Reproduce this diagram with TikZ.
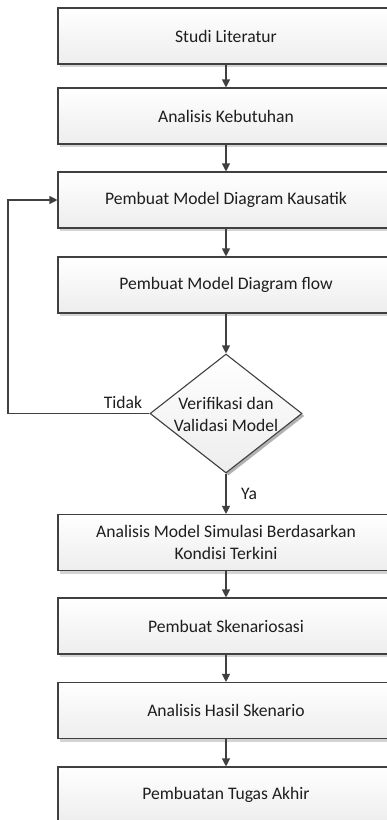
\documentclass[tikz,border=0pt]{standalone}
\usepackage{fontspec}
\setmainfont{Carlito}
\usetikzlibrary{shapes.geometric,arrows.meta,shadows}
\definecolor{linegray}{HTML}{404040}
\definecolor{textgray}{HTML}{1E1E1E}
\definecolor{shadowgray}{HTML}{D4D4D4}
\begin{document}
\begin{tikzpicture}[x=1pt,y=-1pt,
  font=\fontsize{17.6}{22}\selectfont, text=textgray,
  stepbox/.style={rectangle, draw=linegray, line width=1.1pt,
    top color=white, bottom color=black!7,
    minimum width=336pt, minimum height=56pt, inner sep=0pt, align=center,
    drop shadow={shadow xshift=1.5pt, shadow yshift=-3pt, fill=shadowgray, opacity=1}},
  decision/.style={diamond, draw=linegray, line width=1.1pt,
    top color=white, bottom color=black!7,
    minimum width=152pt, minimum height=119pt, inner sep=0pt,
    drop shadow={shadow xshift=2.5pt, shadow yshift=-2.5pt, fill=black!30, opacity=1}},
  flow/.style={draw=linegray, line width=1.1pt, -{Triangle[length=8pt,width=8pt]}}
]
\useasboundingbox (0,0) rectangle (387,820);
\clip (0,0) rectangle (387,820);

% process steps
\node[stepbox] (b1) at (226,36)    {Studi Literatur};
\node[stepbox] (b2) at (226,116)   {Analisis Kebutuhan};
\node[stepbox] (b3) at (226,200)   {Pembuat Model Diagram Kausatik};
\node[stepbox] (b4) at (226,285)   {Pembuat Model Diagram flow};
\node[decision] (d) at (226,413.5) {};
\node[align=center] (dtext) at (226,414) {Verifikasi dan\\Validasi Model};
\node[stepbox] (b5) at (226,542.5) {Analisis Model Simulasi Berdasarkan\\Kondisi Terkini};
\node[stepbox] (b6) at (226,626)   {Pembuat Skenariosasi};
\node[stepbox] (b7) at (226,710.5) {Analisis Hasil Skenario};
\node[stepbox] (b8) at (226,795)   {Pembuatan Tugas Akhir};

% connectors
\draw[flow] (b1.south) -- (b2.north);
\draw[flow] (b2.south) -- (b3.north);
\draw[flow] (b3.south) -- (b4.north);
\draw[flow] (b4.south) -- (d.north);
\draw[flow] (d.south) -- (b5.north);
\draw[flow] (b5.south) -- (b6.north);
\draw[flow] (b6.south) -- (b7.north);
\draw[flow] (b7.south) -- (b8.north);

% feedback loop when the model is rejected
\coordinate (loop) at (8,413.5);
\draw[flow] (d.west) -- (loop) |- (b3.west);

% branch labels
\node (tidak) at (123,402) {Tidak};
\node (ya) at (249,494) {Ya};
\end{tikzpicture}
\end{document}
